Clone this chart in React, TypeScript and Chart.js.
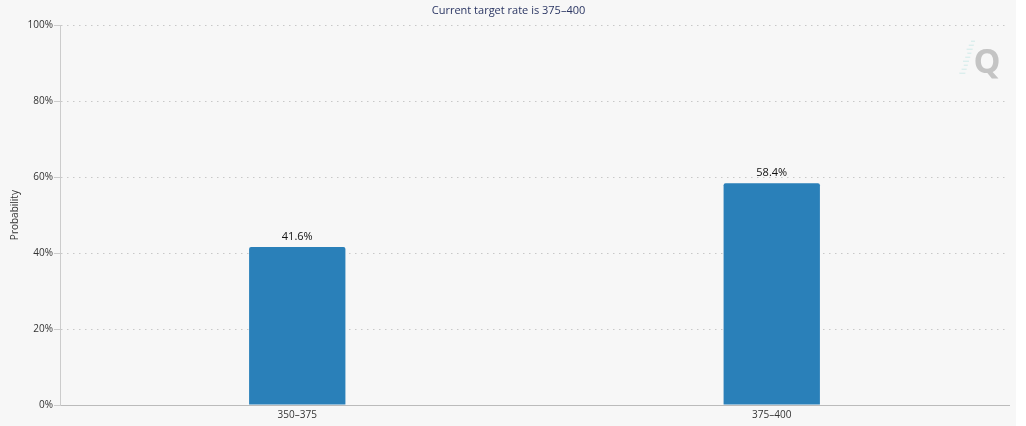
import React, { useEffect, useRef } from "react";
import { Chart, registerables } from "chart.js";

Chart.register(...registerables);

const categories = ["350–375", "375–400"];
const probabilities = [41.6, 58.4];
const titleText = "Current target rate is 375–400";
const yAxisTitle = "Probability";
const yMin = 0;
const yMax = 100;
const yStep = 20;

const FONT = "'Open Sans', 'DejaVu Sans', sans-serif";

const bgPlugin = {
  id: "bgPlugin",
  beforeDraw(chart: any) {
    const { ctx, width, height } = chart;
    ctx.save();
    ctx.fillStyle = "#f7f7f7";
    ctx.fillRect(0, 0, width, height);
    ctx.restore();
  },
};

const labelPlugin = {
  id: "labelPlugin",
  afterDatasetsDraw(chart: any) {
    const { ctx } = chart;
    const meta = chart.getDatasetMeta(0);
    ctx.save();
    ctx.font = `11px ${FONT}`;
    ctx.fillStyle = "#111";
    ctx.textAlign = "center";
    ctx.textBaseline = "middle";
    meta.data.forEach((bar: any, i: number) => {
      const v = chart.data.datasets[0].data[i];
      ctx.fillText(v.toFixed(1) + "%", bar.x, bar.y - 10);
    });
    ctx.restore();
  },
};

const watermarkPlugin = {
  id: "watermarkPlugin",
  afterDraw(chart: any) {
    const { ctx } = chart;
    const ca = chart.chartArea;
    const cx = ca.right - 26;
    const cy = ca.top + 38;
    ctx.save();
    ctx.globalAlpha = 0.45;
    ctx.strokeStyle = "#9fdcd6";
    ctx.lineWidth = 1;
    for (let i = 0; i < 9; i++) {
      const y = cy - 22 + i * 4;
      const x = cx - 8 - i * 1.2;
      ctx.beginPath();
      ctx.moveTo(x - 4 - (i % 3), y);
      ctx.lineTo(x, y);
      ctx.stroke();
    }
    ctx.globalAlpha = 0.4;
    ctx.fillStyle = "#777";
    ctx.font = `bold 34px ${FONT}`;
    ctx.textAlign = "center";
    ctx.textBaseline = "middle";
    ctx.fillText("Q", cx + 4, cy);
    ctx.restore();
  },
};

export default function App() {
  const ref = useRef<HTMLCanvasElement | null>(null);

  useEffect(() => {
    document.body.style.margin = "0";
    const canvas = ref.current;
    if (!canvas) return;
    const chart = new Chart(canvas, {
      type: "bar",
      data: {
        labels: categories,
        datasets: [
          {
            data: probabilities,
            backgroundColor: "#2a80b9",
            borderRadius: 2,
            borderSkipped: "bottom",
            barPercentage: 0.203,
            categoryPercentage: 1,
          },
        ],
      },
      options: {
        animation: false,
        responsive: false,
        maintainAspectRatio: false,
        layout: { padding: { top: 2, bottom: 6, left: 8, right: 7 } },
        plugins: {
          legend: { display: false },
          tooltip: { enabled: false },
          title: {
            display: true,
            text: titleText,
            color: "#2b3663",
            font: { family: FONT, size: 11, weight: "normal" },
            padding: { top: 2, bottom: 8 },
          },
        },
        scales: {
          x: {
            afterFit: (scale: any) => {
              scale.height = 15;
            },
            grid: { display: true, drawOnChartArea: false, drawTicks: false, tickLength: 0 },
            border: { display: true, color: "#bbb", width: 1 },
            ticks: {
              color: "#333",
              font: { family: FONT, size: 10 },
              padding: 4,
            },
          },
          y: {
            min: yMin,
            max: yMax,
            afterFit: (scale: any) => {
              scale.width = 52;
            },
            border: { display: true, color: "#ccc", width: 1, dash: [1.5, 4.5] },
            grid: {
              color: "#c8c8c8",
              drawTicks: true,
              tickLength: 6,
              tickColor: "#ccc",
            },
            ticks: {
              stepSize: yStep,
              color: "#333",
              font: { family: FONT, size: 10 },
              padding: 1,
              callback: (v: any) => v + "%",
            },
            title: {
              display: true,
              text: yAxisTitle,
              color: "#333",
              font: { family: FONT, size: 10 },
              padding: { top: 1, bottom: 0 },
            },
          },
        },
      },
      plugins: [bgPlugin, labelPlugin, watermarkPlugin],
    });
    return () => chart.destroy();
  }, []);

  return (
    <div style={{ width: 1016, height: 426 }}>
      <canvas ref={ref} width={1016} height={426} style={{ display: "block" }} />
    </div>
  );
}
